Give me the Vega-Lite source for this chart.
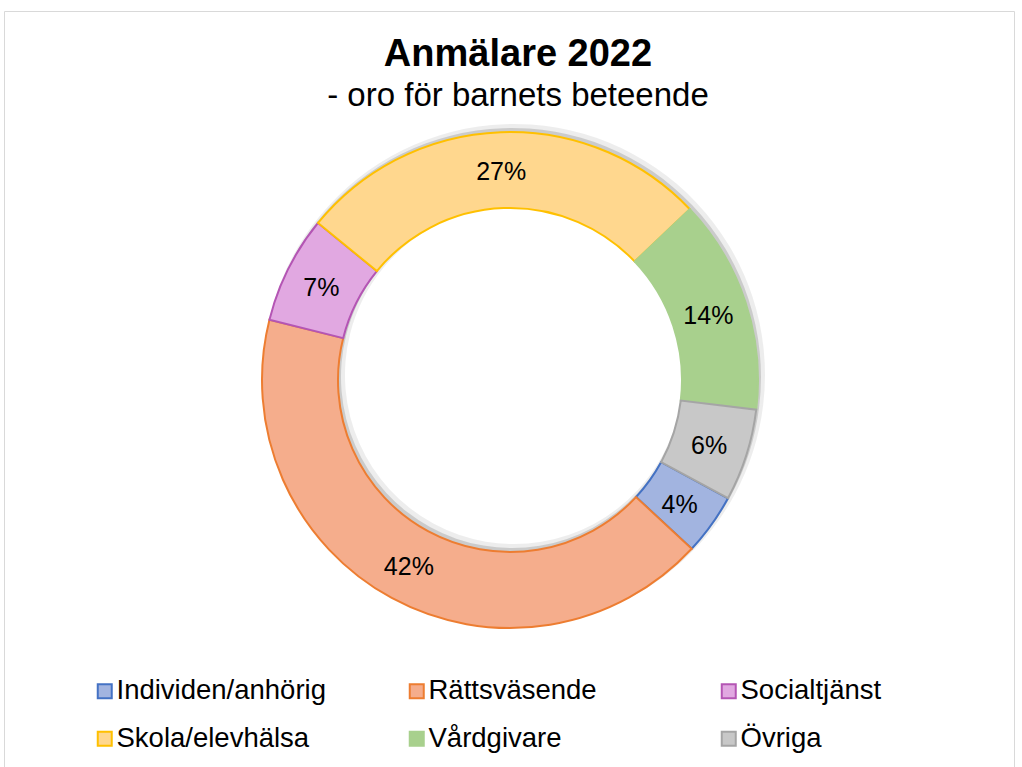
{
  "$schema": "https://vega.github.io/schema/vega-lite/v6.json",
  "autosize": "none",
  "padding": {"left": 4, "top": 11, "right": 8, "bottom": 0},
  "width": 1010,
  "height": 756,
  "background": "white",
  "view": {"stroke": "#d9d9d9", "strokeWidth": 1, "fill": null},
  "config": {
    "font": "Liberation Sans"
  },
  "title": {
    "text": "Anmälare 2022",
    "subtitle": "- oro för barnets beteende",
    "anchor": "middle",
    "frame": "group",
    "offset": -102,
    "dx": 9,
    "font": "Liberation Sans",
    "fontSize": 38,
    "fontWeight": "bold",
    "color": "black",
    "subtitleFont": "Liberation Sans",
    "subtitleFontSize": 33,
    "subtitleColor": "black",
    "subtitlePadding": 6
  },
  "data": {
    "values": [
      {"kategori": "Individen/anhörig", "andel": 4, "nr": 1, "etikett": "4%"},
      {"kategori": "Rättsväsende", "andel": 42, "nr": 2, "etikett": "42%"},
      {"kategori": "Socialtjänst", "andel": 7, "nr": 3, "etikett": "7%"},
      {"kategori": "Skola/elevhälsa", "andel": 27, "nr": 4, "etikett": "27%"},
      {"kategori": "Vårdgivare", "andel": 14, "nr": 5, "etikett": "14%"},
      {"kategori": "Övriga", "andel": 6, "nr": 6, "etikett": "6%"}
    ]
  },
  "encoding": {
    "theta": {"field": "andel", "type": "quantitative", "stack": true, "scale": {"range": [2.068, 8.351]}},
    "order": {"field": "nr", "type": "quantitative"}
  },
  "layer": [
    {
      "mark": {"type": "arc", "outerRadius": 251, "innerRadius": 169, "xOffset": 5, "yOffset": -14, "fill": "#000000", "opacity": 0.07}
    },
    {
      "mark": {"type": "arc", "outerRadius": 249, "innerRadius": 171, "xOffset": 3, "yOffset": -12, "fill": "#000000", "opacity": 0.14}
    },
    {
      "mark": {"type": "arc", "outerRadius": 248, "innerRadius": 172, "strokeWidth": 2, "xOffset": 1, "yOffset": -9},
      "encoding": {
        "fill": {
          "field": "kategori", "type": "nominal",
          "scale": {
            "domain": ["Individen/anhörig", "Rättsväsende", "Socialtjänst", "Skola/elevhälsa", "Vårdgivare", "Övriga"],
            "range": ["#a2b4e0", "#f5ad8c", "#e1a8e1", "#ffd78e", "#a8d08d", "#c8c8c8"]
          },
          "legend": {
            "title": null,
            "orient": "none",
            "direction": "horizontal",
            "legendX": 87,
            "legendY": 666,
            "columns": 3,
            "gridAlign": "all",
            "columnPadding": 77,
            "rowPadding": 19,
            "padding": 0,
            "symbolType": "square",
            "symbolSize": 196,
            "symbolStrokeWidth": 2,
            "labelFont": "Liberation Sans",
            "labelFontSize": 27.5,
            "labelColor": "black",
            "labelOffset": -2,
            "labelLimit": 400
          }
        },
        "stroke": {
          "field": "kategori", "type": "nominal",
          "scale": {
            "domain": ["Individen/anhörig", "Rättsväsende", "Socialtjänst", "Skola/elevhälsa", "Vårdgivare", "Övriga"],
            "range": ["#4472c4", "#ed7d31", "#b455b4", "#ffc000", "#a8d08d", "#a5a5a5"]
          },
          "legend": {
            "title": null,
            "orient": "none",
            "direction": "horizontal",
            "legendX": 87,
            "legendY": 666,
            "columns": 3,
            "gridAlign": "all",
            "columnPadding": 77,
            "rowPadding": 19,
            "padding": 0,
            "symbolType": "square",
            "symbolSize": 196,
            "symbolStrokeWidth": 2,
            "labelFont": "Liberation Sans",
            "labelFontSize": 27.5,
            "labelColor": "black",
            "labelOffset": -2,
            "labelLimit": 400
          }
        }
      }
    },
    {
      "mark": {"type": "text", "radius": 210, "xOffset": 0, "yOffset": -7, "font": "Liberation Sans", "fontSize": 25, "color": "black", "align": "center", "baseline": "middle"},
      "encoding": {
        "text": {"field": "etikett", "type": "nominal"}
      }
    }
  ]
}
